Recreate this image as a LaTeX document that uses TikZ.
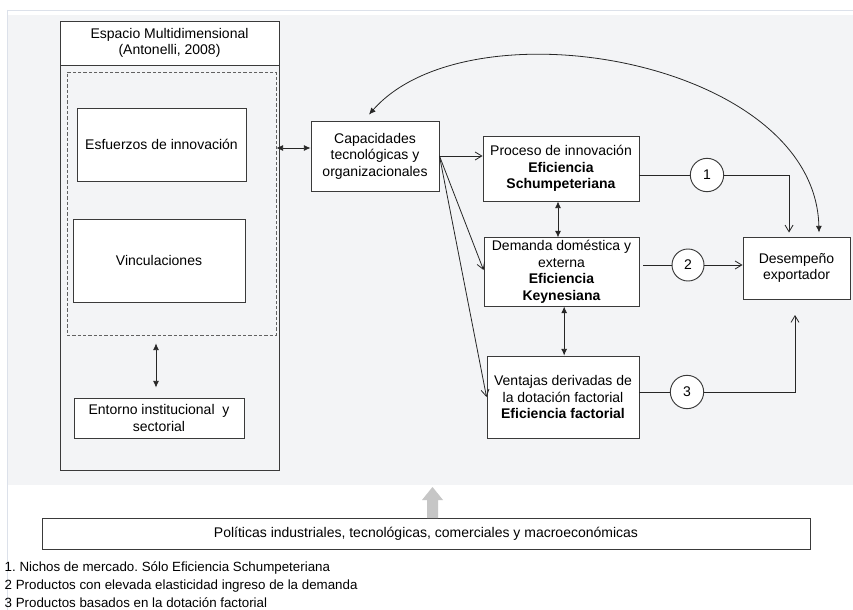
\documentclass[tikz,border=0pt]{standalone}
\usepackage{fontspec}
\setmainfont{Liberation Sans}
\usetikzlibrary{arrows.meta}
\frenchspacing

\definecolor{fondo}{HTML}{F3F4F6}
\definecolor{borde}{HTML}{DCE1EA}
\definecolor{linea}{HTML}{3A3A3A}
\definecolor{flecha}{HTML}{C6C6C6}

\tikzset{
  caja/.style={draw=linea, fill=white, align=center, inner sep=2pt, line width=0.7pt},
  num/.style={draw=linea, fill=white, circle, minimum size=25pt, inner sep=0pt, line width=0.7pt},
  nota/.style={anchor=west, font=\fontsize{10}{12}\selectfont},
  abierta/.style={-{Straight Barb[length=5pt,width=6pt]}, line width=0.6pt},
  doble/.style={{Latex[length=5pt,width=4.5pt]}-{Latex[length=5pt,width=4.5pt]}, line width=0.6pt},
}

\begin{document}
\begin{tikzpicture}[x=0.75pt,y=-0.75pt,font=\fontsize{10.5}{12.4}\selectfont]
  \useasboundingbox (0,0) rectangle (853,610);
  \fill[white] (0,0) rectangle (853,610);
  \fill[fondo] (7,15) rectangle (853,485);
  \draw[borde] (7,10) -- (853,10) (7,10) -- (7,610);

  % espacio multidimensional
  \node[draw=linea, line width=0.7pt, minimum width=164.25pt, minimum height=303.75pt] (espacio) at (169.5,267.5) {};
  \node[caja, minimum width=164.25pt, minimum height=33pt] (titulo) at (169.5,43) {Espacio Multidimensional\\(Antonelli, 2008)};
  \node[draw=linea!80, dash pattern=on 2.5pt off 1.5pt, line width=0.6pt, minimum width=156.75pt, minimum height=197.25pt] (punteado) at (171.5,203.5) {};
  \node[caja, minimum width=126.75pt, minimum height=54.75pt] (esfuerzos) at (161.5,144.5) {Esfuerzos de innovación};
  \node[caja, minimum width=129pt, minimum height=62.25pt] (vinculos) at (159,260.5) {Vinculaciones};
  \node[caja, minimum width=127.5pt, minimum height=30pt] (entorno) at (159,418) {Entorno institucional~ y\\sectorial};

  % capacidades y eficiencias
  \node[caja, minimum width=96pt, minimum height=52.5pt] (capac) at (375,156) {Capacidades\\tecnológicas y\\organizacionales};
  \node[caja, minimum width=117pt, minimum height=48.75pt] (proceso) at (561,168.5) {Proceso de innovación\\\textbf{Eficiencia}\\\textbf{Schumpeteriana}};
  \node[caja, minimum width=116.25pt, minimum height=51pt] (demanda) at (561.5,272) {Demanda doméstica y\\externa\\\textbf{Eficiencia}\\\textbf{Keynesiana}};
  \node[caja, minimum width=114pt, minimum height=61.5pt] (ventajas) at (563,397) {Ventajas derivadas de\\la dotación factorial\\\textbf{Eficiencia factorial}};
  \node[caja, minimum width=80.25pt, minimum height=46.5pt] (desem) at (796.5,268) {Desempeño\\exportador};

  \node[num] (c1) at (707,175) {1};
  \node[num, minimum size=24pt] (c2) at (688,265) {2};
  \node[num] (c3) at (687,392) {3};
  \coordinate (fin3) at (795,315);

  % politicas y notas
  \node[caja, minimum width=576pt, minimum height=23.25pt] (politicas) at (426,533.5) {Políticas industriales, tecnológicas, comerciales y macroeconómicas};
  \fill[flecha] (427,518) -- (427,500) -- (422,500) -- (432.5,487) -- (443,500) -- (438,500) -- (438,518) -- cycle;
  \node[nota] (nota1) at (0,568) {1. Nichos de mercado. Sólo Eficiencia Schumpeteriana};
  \node[nota] (nota2) at (0,586) {2 Productos con elevada elasticidad ingreso de la demanda};
  \node[nota] (nota3) at (0,603) {3 Productos basados en la dotación factorial};

  \begin{scope}[draw=black!85]
    \draw[doble] ([yshift=6pt]capac.west) -- ([yshift=6pt]capac.west -| punteado.east);
    \draw[doble, shorten <=7.5pt, shorten >=6pt] ([xshift=-2.25pt]entorno.north) -- ([xshift=-2.25pt]entorno.north |- punteado.south);
    \draw[abierta] (capac.east) -- (capac.east -| proceso.west);
    \draw[abierta] (capac.east) -- ([yshift=1.5pt]demanda.west);
    \draw[abierta] (capac.east) -- (ventajas.west);
    \draw[doble] ([xshift=-2.25pt]proceso.south) -- ([xshift=-2.25pt]proceso.south |- demanda.north);
    \draw[doble] ([xshift=2pt]demanda.south) -- ([xshift=2pt]demanda.south |- ventajas.north);
    \draw[line width=0.6pt] (c1 -| proceso.east) -- (c1);
    \draw[abierta] (c1) -| ([xshift=-5.6pt,yshift=3pt]desem.north);
    \draw[line width=0.6pt] ([xshift=3pt]c2 -| demanda.east) -- (c2);
    \draw[abierta] (c2) -- (c2 -| desem.west);
    \draw[line width=0.6pt] (c3 -| ventajas.east) -- (c3);
    \draw[abierta] (c3) -| (fin3);
    \draw[doble] ([xshift=16.9pt,yshift=3pt]desem.north) .. controls (815,60) and (470,0) .. ([xshift=-4.5pt,yshift=4.5pt]capac.north);
  \end{scope}
\end{tikzpicture}
\end{document}
